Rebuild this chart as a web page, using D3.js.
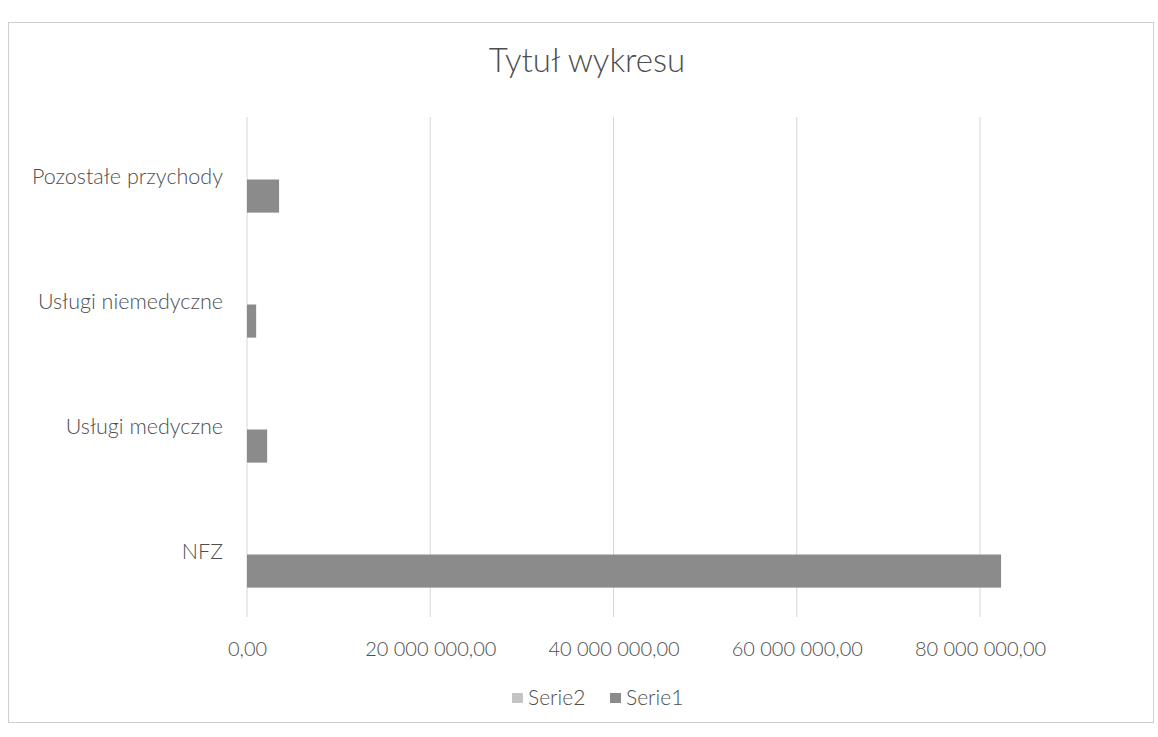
<!DOCTYPE html>
<html><head><meta charset="utf-8">
<script src="https://cdn.jsdelivr.net/npm/d3@7"></script>
<style>
html,body{margin:0;padding:0;background:#fff;}
text{font-family:Lato,"Open Sans",sans-serif;fill:#4e4e4e;font-weight:300;}
</style></head>
<body><svg id="chart" width="1158" height="737"></svg>
<script>
// Data (Excel order: first category at bottom)
const categories = ["NFZ", "Usługi medyczne", "Usługi niemedyczne", "Pozostałe przychody"];
const serie1 = [82300000, 2200000, 1000000, 3500000];
const serie2 = [0, 0, 0, 0];
const seriesNames = ["Serie2", "Serie1"];
const xTicks = [0, 20000000, 40000000, 60000000, 80000000];
const title = "Tytuł wykresu";

const svg = d3.select("#chart");

// chart frame
svg.append("rect").attr("x", 8.5).attr("y", 22.5).attr("width", 1145).attr("height", 700)
  .attr("fill", "#fff").attr("stroke", "#cfcfcf").attr("stroke-width", 1);

const plotTop = 117, plotBottom = 617;
const x = d3.scaleLinear().domain([0, 80000000]).range([247, 980]);
const y0 = d3.scaleBand().domain(categories.slice().reverse()).range([plotTop, plotBottom])
  .paddingInner(0.47).paddingOuter(0.235);
const y1 = d3.scaleBand().domain(seriesNames).range([0, y0.bandwidth()]);

const loc = d3.formatLocale({decimal: ",", thousands: " ", grouping: [3], currency: ["", ""]});
const fmt = loc.format(",.2f");

// gridlines
svg.append("g").selectAll("line").data(xTicks).join("line")
  .attr("x1", d => x(d)).attr("x2", d => x(d))
  .attr("y1", plotTop).attr("y2", plotBottom)
  .attr("stroke", "#d6d6d6").attr("stroke-width", 1);

// x axis labels
const xAxis = d3.axisBottom(x).tickValues(xTicks).tickFormat(fmt).tickSize(0).tickPadding(0);
const gx = svg.append("g").attr("transform", `translate(0,${plotBottom + 21})`).call(xAxis);
gx.select(".domain").remove();
gx.selectAll("text").attr("font-size", 20).attr("fill", "#4e4e4e")
  .style("font-family", "Lato, 'Open Sans', sans-serif").style("font-weight", 300).attr("dy", "0.9em");

// category labels
const yAxis = d3.axisLeft(y0).tickSize(0).tickPadding(0);
const gy = svg.append("g").attr("transform", "translate(223,0)").call(yAxis);
gy.select(".domain").remove();
gy.selectAll("text").attr("font-size", 21.5).attr("fill", "#4e4e4e")
  .style("font-family", "Lato, 'Open Sans', sans-serif").style("font-weight", 300).attr("dy", "0.2em");

// bars
const rows = categories.map((c, i) => ({cat: c, Serie1: serie1[i], Serie2: serie2[i]}));
const colors = {Serie1: "#8b8b8b", Serie2: "#c4c4c4"};
svg.append("g").selectAll("g").data(rows).join("g")
  .attr("transform", d => `translate(0,${y0(d.cat)})`)
  .selectAll("rect").data(d => seriesNames.map(s => ({s, v: d[s]}))).join("rect")
  .attr("x", x(0))
  .attr("y", d => y1(d.s))
  .attr("height", y1.bandwidth())
  .attr("width", d => x(d.v) - x(0))
  .attr("fill", d => colors[d.s]);

// title
svg.append("text").attr("x", 587).attr("y", 72).attr("text-anchor", "middle")
  .attr("font-size", 33).text(title);

// legend
const legend = svg.append("g").attr("transform", "translate(512,705)");
const legItems = [{name: "Serie2", x: 0}, {name: "Serie1", x: 98}];
legItems.forEach(it => {
  legend.append("rect").attr("x", it.x).attr("y", -12).attr("width", 11).attr("height", 10)
    .attr("fill", colors[it.name]);
  legend.append("text").attr("x", it.x + 16).attr("y", 0).attr("font-size", 21).text(it.name);
});
</script></body></html>
